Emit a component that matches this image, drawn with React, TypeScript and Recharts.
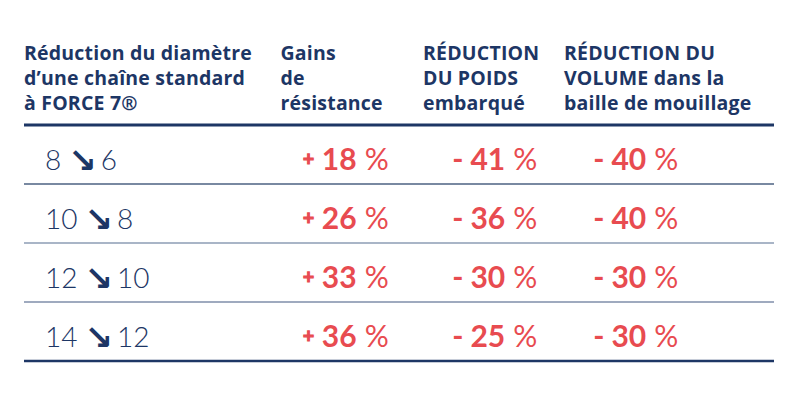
import { ReferenceLine, Scatter, ScatterChart, XAxis, YAxis } from 'recharts';

const diameterFrom = [8, 10, 12, 14];
const diameterTo = [6, 8, 10, 12];
const strengthGain = [18, 26, 33, 36];
const weightReduction = [-41, -36, -30, -25];
const volumeReduction = [-40, -40, -30, -30];
const headerLines = [
  ['Réduction du diamètre', 'd’une chaîne standard', 'à FORCE 7®'],
  ['Gains', 'de', 'résistance'],
  ['RÉDUCTION', 'DU POIDS', 'embarqué'],
  ['RÉDUCTION DU', 'VOLUME dans la', 'baille de mouillage'],
];

// layout: column starts as % of table width
const COL_START = [0, 34.2, 53.2, 72];
const CELL_START = [2.8, 37.1, 57.1, 75.9];

const NAVY = '#1d3665';
const RED = '#e84b50';
const FONT = 'Lato, "Open Sans", sans-serif';
const HEAD_FONT = '"Open Sans", Lato, sans-serif';

const rowY = (i: number) => i + 0.5;
const diameterRows = diameterFrom.map((from, i) => ({ x: CELL_START[0], y: rowY(i), from, to: diameterTo[i] }));
const pctRows = (values: number[], col: number) => values.map((value, i) => ({ x: CELL_START[col], y: rowY(i), value }));

function HeaderTick(props: any) {
  const { x, y, index } = props;
  const lines = headerLines[index] ?? [];
  return (
    <text x={x} y={y} fill={NAVY} fontFamily={HEAD_FONT} fontSize={19.5} fontWeight={700} letterSpacing={0.2}>
      {lines.map((line, i) => (
        <tspan key={i} x={x} y={y - 65 + i * 25}>
          {line}
        </tspan>
      ))}
    </text>
  );
}

function DiameterCell(props: any) {
  const { cx, cy, payload } = props;
  return (
    <text x={cx} y={cy + 15} fill={NAVY} fontFamily={FONT} fontSize={28} fontWeight={300}>
      <tspan>{payload.from}</tspan>
      <tspan dx={7} dy={2} fontFamily="DejaVu Sans" fontWeight={700} fontSize={34}>
        ↘
      </tspan>
      <tspan dx={4} dy={-2}>
        {payload.to}
      </tspan>
    </text>
  );
}

function PctCell(props: any) {
  const { cx, cy, payload } = props;
  const v: number = payload.value;
  const positive = v > 0;
  return (
    <text x={cx} y={cy + 15} fill={RED} fontFamily={FONT} fontSize={30} fontWeight={700}>
      {positive ? (
        <tspan fontFamily="DejaVu Sans" fontSize={15} fontWeight={700} dy={-6} stroke={RED} strokeWidth={1.2}>
          +
        </tspan>
      ) : (
        <tspan>-</tspan>
      )}
      <tspan dx={7} dy={positive ? 6 : 0} stroke="none">
        {Math.abs(v)}
      </tspan>
      <tspan dx={8} fontWeight={400} stroke="none">
        %
      </tspan>
    </text>
  );
}

export default function App() {
  return (
    <div style={{ position: 'absolute', left: 0, top: 0, width: 800, height: 413, background: '#fff' }}>
      <ScatterChart width={800} height={413} margin={{ top: 25, right: 26, bottom: 52, left: 24 }}>
        <XAxis
          type="number"
          dataKey="x"
          domain={[0, 100]}
          orientation="top"
          ticks={COL_START}
          interval={0}
          tick={<HeaderTick />}
          axisLine={false}
          tickLine={false}
          tickSize={0}
          tickMargin={0}
          height={100}
        />
        <YAxis type="number" dataKey="y" domain={[0, 4]} reversed hide width={0} />
        <ReferenceLine y={0} stroke={NAVY} strokeWidth={3} />
        <ReferenceLine y={1} stroke="#4c6282" strokeWidth={1.5} />
        <ReferenceLine y={2} stroke="#a9b5c7" strokeWidth={2} />
        <ReferenceLine y={3} stroke="#7f8eaa" strokeWidth={1.5} />
        <ReferenceLine y={4} stroke={NAVY} strokeWidth={2.5} />
        <Scatter data={diameterRows} shape={<DiameterCell />} isAnimationActive={false} />
        <Scatter data={pctRows(strengthGain, 1)} shape={<PctCell />} isAnimationActive={false} />
        <Scatter data={pctRows(weightReduction, 2)} shape={<PctCell />} isAnimationActive={false} />
        <Scatter data={pctRows(volumeReduction, 3)} shape={<PctCell />} isAnimationActive={false} />
      </ScatterChart>
    </div>
  );
}
